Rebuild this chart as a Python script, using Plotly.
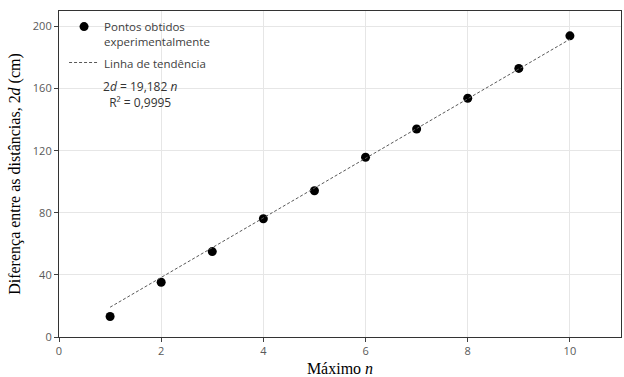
import plotly.graph_objects as go

n_vals = [1, 2, 3, 4, 5, 6, 7, 8, 9, 10]
d_vals = [13.2, 35.3, 55.0, 76.2, 94.2, 115.8, 134.0, 153.8, 173.0, 194.0]
slope = 19.182
trend_x = [1, 10]
trend_y = [slope * x for x in trend_x]

x_ticks = [0, 2, 4, 6, 8, 10]
y_ticks = [0, 40, 80, 120, 160, 200]

fig = go.Figure()
fig.add_trace(go.Scatter(
    x=n_vals, y=d_vals, mode="markers",
    name="Pontos obtidos<br>experimentalmente", legendgroup="pts",
    marker=dict(color="black", size=9),
))
fig.add_trace(go.Scatter(
    x=trend_x, y=trend_y, mode="lines",
    name="Linha de tendência", legendgroup="trend",
    line=dict(color="#595959", width=1, dash="3px,2px"),
))

fig.add_annotation(
    xref="paper", yref="paper", x=0.145, y=0.745,
    xanchor="center", yanchor="middle",
    text="2<i>d</i> = 19,182 <i>n</i><br>R² = 0,9995",
    showarrow=False, align="center",
    font=dict(family="Open Sans, sans-serif", size=12, color="#333333"),
)

tickfont = dict(family="Open Sans, sans-serif", size=11, color="#595959")
titlefont = dict(family="Liberation Serif, serif", size=16, color="black")

fig.update_xaxes(
    range=[0, 11], tickvals=x_ticks, ticks="outside", ticklen=4,
    tickcolor="#404040", showline=True, linecolor="#333333", linewidth=1.2,
    mirror=True, showgrid=True, gridcolor="#e6e6e6", zeroline=False,
    tickfont=tickfont,
    title=dict(text="Máximo <i>n</i>", font=titlefont, standoff=6),
)
fig.update_yaxes(
    range=[0, 210], tickvals=y_ticks, ticks="outside", ticklen=4,
    tickcolor="#404040", showline=True, linecolor="#333333", linewidth=1.2,
    mirror=True, showgrid=True, gridcolor="#e6e6e6", zeroline=False,
    tickfont=tickfont,
    title=dict(text="Diferença entre as distâncias, 2<i>d</i> (cm)", font=titlefont, standoff=8),
)

fig.update_layout(
    width=624, height=377,
    margin=dict(l=59, r=2, t=11, b=38),
    plot_bgcolor="white", paper_bgcolor="white",
    legend=dict(
        x=0.009, y=0.995, xanchor="left", yanchor="top",
        bgcolor="rgba(0,0,0,0)", valign="top",
        font=dict(family="Open Sans, sans-serif", size=11.5, color="#404040"),
        traceorder="grouped", tracegroupgap=3,
    ),
)

fig.write_html("out.html")
